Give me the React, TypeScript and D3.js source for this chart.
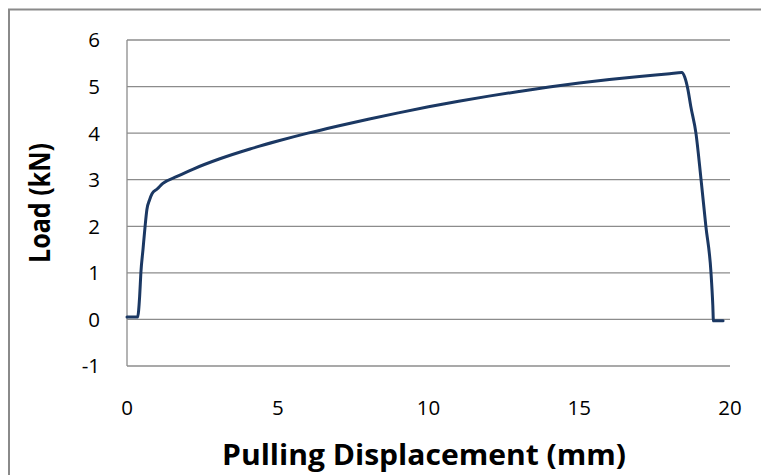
import React from "react";
import * as d3 from "d3";

const yTicks = [-1, 0, 1, 2, 3, 4, 5, 6];
const xTicks = [0, 5, 10, 15, 20];
const displacement = [
  0, 0.35, 0.42, 0.46, 0.53, 0.6, 0.66, 0.75, 0.83, 1.0, 1.19, 1.66, 2.2, 3.08, 4.08, 5, 6, 7, 8, 9,
  10, 11, 12, 13, 14, 15, 16, 17, 18, 18.4, 18.5, 18.6, 18.7, 18.87, 19.04, 19.2, 19.37,
  19.43, 19.45, 19.77,
];
const load = [
  0.05, 0.05, 0.5, 1.0, 1.5, 2.0, 2.36, 2.57, 2.7, 2.8, 2.92, 3.07, 3.23, 3.45, 3.66, 3.83, 4.0, 4.155,
  4.3, 4.435, 4.565, 4.685, 4.795, 4.895, 4.99, 5.075, 5.15, 5.215, 5.275, 5.3, 5.2, 4.95, 4.57, 4.0, 3.0,
  2.0, 1.0, 0.3, -0.03, -0.03,
];
const xTitle = "Pulling Displacement (mm)";
const yTitle = "Load (kN)";

export default function App() {
  const W = 761;
  const H = 475;
  const x = d3.scaleLinear().domain([0, 20]).range([127, 730]);
  const y = d3.scaleLinear().domain([-1, 6]).range([366, 40]);
  const pts = displacement.map((d, i) => [d, load[i]] as [number, number]);
  const line = d3
    .line<[number, number]>()
    .x((d) => x(d[0]))
    .y((d) => y(d[1]))
    .curve(d3.curveMonotoneX);
  const font = "'Open Sans', 'Liberation Sans', sans-serif";
  return (
    <svg
      width={W}
      height={H}
      style={{ position: "absolute", left: 0, top: 0, background: "#fff" }}
    >
      <rect x={0} y={0} width={W} height={H} fill="#fff" />
      <path d={`M9,${H} L9,9.5 L${W},9.5`} fill="none" stroke="#8a8a8a" strokeWidth={2} />
      {yTicks.map((t) => (
        <line key={"g" + t} x1={x(0)} x2={x(20)} y1={y(t)} y2={y(t)} stroke="#8c8c8c" strokeWidth={1.3} />
      ))}
      <line x1={x(0)} x2={x(0)} y1={y(6)} y2={y(-1)} stroke="#8c8c8c" strokeWidth={1.3} />
      {yTicks.map((t) => (
        <text
          key={"yl" + t}
          x={100}
          y={y(t)}
          dy="0.36em"
          textAnchor="end"
          fontFamily={font}
          fontSize={20.5}
          fill="#000"
        >
          {t}
        </text>
      ))}
      {xTicks.map((t) => (
        <text
          key={"xl" + t}
          x={x(t)}
          y={415}
          textAnchor="middle"
          fontFamily={font}
          fontSize={20.5}
          fill="#000"
        >
          {t}
        </text>
      ))}
      <path d={line(pts) || ""} fill="none" stroke="#1b3863" strokeWidth={3} strokeLinejoin="round" strokeLinecap="round" />
      <text
        x={424}
        y={465}
        textAnchor="middle"
        fontFamily={font}
        fontWeight="bold"
        fontSize={29}
        textLength={404}
        lengthAdjust="spacingAndGlyphs"
        fill="#000"
      >
        {xTitle}
      </text>
      <text
        transform="translate(50,203) rotate(-90)"
        textAnchor="middle"
        fontFamily={font}
        fontWeight="bold"
        fontSize={28}
        textLength={120}
        lengthAdjust="spacingAndGlyphs"
        fill="#000"
      >
        {yTitle}
      </text>
    </svg>
  );
}
